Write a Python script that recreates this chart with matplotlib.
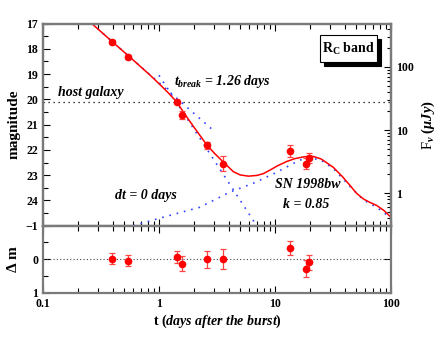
import numpy as np
import matplotlib
matplotlib.use("Agg")
import matplotlib.pyplot as plt
from matplotlib.ticker import MultipleLocator, LogLocator, NullFormatter, FixedLocator
from matplotlib.patches import Rectangle

plt.rcParams['font.family'] = ['Liberation Serif', 'DejaVu Serif']
plt.rcParams['mathtext.fontset'] = 'custom'
plt.rcParams['mathtext.rm'] = 'Liberation Serif:bold'
plt.rcParams['mathtext.it'] = 'Liberation Serif:italic:bold'
plt.rcParams['mathtext.bf'] = 'Liberation Serif:bold'

# ---- data ----
obs_t = [0.396, 0.544, 1.42, 1.59, 2.59, 3.57, 13.6, 18.6, 19.5]
obs_m = [17.72, 18.34, 20.10, 20.62, 21.81, 22.54, 22.06, 22.55, 22.31]
obs_err = [0.08, 0.08, 0.08, 0.14, 0.14, 0.28, 0.24, 0.22, 0.2]

res_m = [-0.02, 0.04, -0.07, 0.13, 0.0, 0.0, -0.34, 0.28, 0.09]
res_err = [0.17, 0.17, 0.17, 0.22, 0.25, 0.3, 0.2, 0.25, 0.22]

# total model (red curve)
fit_t = [0.263, 0.40, 0.60, 0.836, 1.0, 1.2, 1.42, 1.7, 2.0, 2.58, 3.0, 3.58,
         4.37, 5.0, 5.89, 7.0, 7.93, 9.06, 10.5, 12.6, 15.0, 18.0, 21.4, 25.0,
         31.8, 38.0, 44.4, 50.0, 57.7, 66.0, 75.3, 87.0, 100.0]
fit_m = [17.0, 17.74, 18.45, 19.04, 19.38, 19.74, 20.10, 20.64, 21.10, 21.80, 22.13, 22.48,
         22.86, 22.99, 23.04, 23.01, 22.94, 22.80, 22.63, 22.46, 22.34, 22.27, 22.26, 22.36,
         22.69, 23.05, 23.41, 23.70, 23.94, 24.08, 24.20, 24.40, 24.67]

# early power-law asymptote
early_t = [0.263, 2.94]
early_m = [17.0, 21.23]
# late power-law asymptote
late_t = [1.0, 6.95]
late_m = [19.05, 25.0]
# SN 1998bw component
sn_t = [0.60, 1.0, 2.25, 4.09, 6.5, 10.0, 16.4, 20.0, 24.4, 31.8, 44.4, 57.7, 75.3, 100.0]
sn_m = [25.0, 24.71, 24.27, 23.67, 23.32, 22.92, 22.40, 22.34, 22.38, 22.74, 23.45, 23.98, 24.27, 24.70]

host_m = 20.1
zp = 23.72  # magnitude of 1 microJy

fig = plt.figure(figsize=(4.36, 3.37), dpi=100)
L, R = 43/436, 391/436
ax = fig.add_axes([L, 1-225.7/337, R-L, (225.7-23.5)/337])
axr = fig.add_axes([L, 1-292.7/337, R-L, (292.7-225.7)/337])

spine_c = '#7a7a7a'
for a in (ax, axr):
    a.set_xscale('log')
    a.set_xlim(0.1, 100)
    for s in a.spines.values():
        s.set_color(spine_c)
        s.set_linewidth(1.6)
    a.tick_params(which='both', direction='in', top=True, color='black', width=0.8,
                  labelsize=8.5)
    a.tick_params(which='major', length=5)
    a.tick_params(which='minor', length=3.5)

# main panel
ax.set_ylim(25, 17)
ax.yaxis.set_major_locator(FixedLocator([17, 18, 19, 20, 21, 22, 23, 24]))
ax.yaxis.set_minor_locator(MultipleLocator(0.5))
ax.tick_params(axis='x', labelbottom=False)
ax.tick_params(axis='y', right=False)
for lab in ax.get_yticklabels():
    lab.set_fontweight('bold')

ax.axhline(host_m, color='black', ls=(0, (1, 3)), lw=0.9)
blue = '#3344ff'
ax.plot(early_t, early_m, color=blue, ls=(0, (1, 3.5)), lw=1.2)
ax.plot(late_t, late_m, color=blue, ls=(0, (1, 3.5)), lw=1.2)
ax.plot(sn_t, sn_m, color=blue, ls=(0, (1, 3.5)), lw=1.2)
ax.plot(fit_t, fit_m, color='red', lw=1.1)
ax.errorbar(obs_t, obs_m, yerr=obs_err, fmt='o', color='red', ms=4.5,
            elinewidth=0.9, capsize=2, capthick=0.9, ecolor='#ff4444')

ax.set_ylabel('magnitude', fontsize=11, fontweight='bold', labelpad=4)

axf = ax.twinx()
axf.set_yscale('log')
axf.set_ylim(10**(-0.4*(25-zp)), 10**(-0.4*(17-zp)))
axf.yaxis.set_major_locator(LogLocator(base=10, numticks=10))
axf.yaxis.set_minor_locator(LogLocator(base=10, subs=np.arange(2, 10), numticks=10))
axf.yaxis.set_minor_formatter(NullFormatter())
axf.yaxis.set_major_formatter(matplotlib.ticker.FuncFormatter(lambda v, p: f'{v:g}'))
for s in axf.spines.values():
    s.set_color(spine_c)
    s.set_linewidth(1.6)
axf.tick_params(which='both', direction='in', color='black', width=0.8, labelsize=8.5)
axf.tick_params(which='major', length=5)
axf.tick_params(which='minor', length=3)
for lab in axf.get_yticklabels():
    lab.set_fontweight('bold')
axf.set_ylabel(r'F$_\nu$ $(\mu Jy)$', fontsize=10.5, labelpad=4)

ax.text(0.135, 19.72, 'host galaxy', fontsize=10, style='italic', fontweight='bold',
        va='center', ha='left')
ax.text(1.35, 19.3, r'$t_{break}$ = 1.26 days', fontsize=10, style='italic',
        fontweight='bold', va='center', ha='left')
ax.text(0.417, 23.8, 'dt = 0 days', fontsize=10, style='italic', fontweight='bold',
        va='center', ha='left')
ax.text(19.0, 23.37, 'SN 1998bw', fontsize=10, style='italic', fontweight='bold',
        va='center', ha='center')
ax.text(18.6, 24.16, 'k = 0.85', fontsize=10, style='italic', fontweight='bold',
        va='center', ha='center')

# R_C band box with shadow
bx0, bx1 = 0.796, 0.960
by0, by1 = 0.810, 0.943
dx, dy = 0.0125, 0.02
ax.add_patch(Rectangle((bx0 + dx, by0 - dy), bx1 - bx0, by1 - by0, transform=ax.transAxes,
                       fc='black', ec='black', lw=0.8, zorder=5))
ax.add_patch(Rectangle((bx0, by0), bx1 - bx0, by1 - by0, transform=ax.transAxes,
                       fc='white', ec='black', lw=0.8, zorder=6))
ax.text((bx0 + bx1) / 2, (by0 + by1) / 2, r'R$_\mathrm{C}$ band', transform=ax.transAxes,
        fontsize=10, fontweight='bold', ha='center', va='center', zorder=7)

# residual panel
axr.set_ylim(1, -1)
axr.yaxis.set_major_locator(FixedLocator([-1, 0, 1]))
axr.yaxis.set_minor_locator(MultipleLocator(0.5))
axr.tick_params(axis='y', right=True)
axr.axhline(0, color='#444444', ls=(0, (1, 2)), lw=0.8)
axr.errorbar(obs_t, res_m, yerr=res_err, fmt='o', color='red', ms=4.5,
             elinewidth=0.9, capsize=2, capthick=0.9, ecolor='#ff4444')
axr.set_ylabel(r'$\Delta$ m', fontsize=11, fontweight='bold', labelpad=4)
axr.set_xticks([0.1, 1, 10, 100])
axr.set_xticklabels(['0.1', '1', '10', '100'])
axr.set_xlabel(r't $\it{(days\ after\ the\ burst)}$', fontsize=10, fontweight='bold',
               labelpad=2)
for lab in axr.get_yticklabels() + axr.get_xticklabels():
    lab.set_fontweight('bold')

fig.savefig('out.png', dpi=100)
